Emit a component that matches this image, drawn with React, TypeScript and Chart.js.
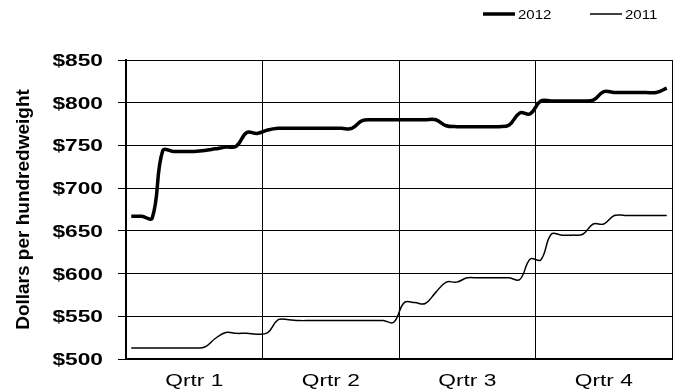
import React, { useEffect, useRef } from 'react';
import { Chart, registerables } from 'chart.js';

Chart.register(...registerables);

const quarterLabels = ['Qrtr 1', 'Qrtr 2', 'Qrtr 3', 'Qrtr 4'];
const weeksPerQuarter = 13;
const yTickValues = [500, 550, 600, 650, 700, 750, 800, 850];
const yAxisTitle = 'Dollars per hundredweight';

const seriesNames = ['2012', '2011'];
const values2012 = [
  667, 667, 665, 744, 743, 743, 743, 744, 746, 748,
  749, 765, 764, 768, 770, 770, 770, 770, 770, 770,
  770, 770, 779, 780, 780, 780, 780, 780, 780, 780,
  773, 772, 772, 772, 772, 772, 774, 788, 787, 802,
  802, 802, 802, 802, 803, 813, 812, 812, 812, 812,
  812, 817,
];
const values2011 = [
  513, 513, 513, 513, 513, 513, 513, 514, 524, 531,
  530, 530, 529, 531, 546, 546, 545, 545, 545, 545,
  545, 545, 545, 545, 545, 543, 566, 566, 565, 578,
  590, 590, 595, 595, 595, 595, 595, 593, 617, 616,
  646, 645, 645, 646, 658, 658, 668, 668, 668, 668,
  668, 668,
];

const totalWeeks = quarterLabels.length * weeksPerQuarter;
const toPoints = (vals: number[]) => vals.map((v, i) => ({ x: i + 0.5, y: v }));
const fmtDollar = (v: number) => '$' + v;

const FONT = '"Liberation Sans", Arial, sans-serif';

function drawStretched(ctx: CanvasRenderingContext2D, text: string, x: number, y: number, font: string, align: CanvasTextAlign, sx: number) {
  ctx.save();
  ctx.font = font;
  ctx.fillStyle = '#000';
  ctx.textAlign = align;
  ctx.textBaseline = 'alphabetic';
  ctx.translate(x, y);
  ctx.scale(sx, 1);
  ctx.fillText(text, 0, 0);
  ctx.restore();
}

const textPlugin = {
  id: 'customText',
  afterDraw(chart: any) {
    const ctx: CanvasRenderingContext2D = chart.ctx;
    const xs = chart.scales.x;
    const ys = chart.scales.y;
    yTickValues.forEach((v) => {
      const py = ys.getPixelForValue(v);
      drawStretched(ctx, fmtDollar(v), 103, py + 6, 'bold 16px ' + FONT, 'right', 1.42);
    });
    quarterLabels.forEach((lab, i) => {
      const px = xs.getPixelForValue(i * weeksPerQuarter + weeksPerQuarter / 2);
      drawStretched(ctx, lab, px, 386, '16px ' + FONT, 'center', 1.42);
    });
    ctx.save();
    ctx.translate(29, (chart.chartArea.top + chart.chartArea.bottom) / 2);
    ctx.rotate(-Math.PI / 2);
    ctx.font = 'bold 19px ' + FONT;
    ctx.fillStyle = '#000';
    ctx.textAlign = 'center';
    ctx.textBaseline = 'alphabetic';
    ctx.fillText(yAxisTitle, 0, 0);
    ctx.restore();
    const legendItems = chart.data.datasets.map((d: any) => ({ label: d.label, w: d.borderWidth }));
    let lx = 483;
    const ly = 14;
    legendItems.forEach((it: any) => {
      ctx.save();
      ctx.strokeStyle = '#000';
      ctx.lineWidth = it.w;
      ctx.beginPath();
      ctx.moveTo(lx, ly);
      ctx.lineTo(lx + 32, ly);
      ctx.stroke();
      ctx.restore();
      drawStretched(ctx, it.label, lx + 35, ly + 4.5, '12px ' + FONT, 'left', 1.25);
      lx += 107;
    });
  },
};

export default function App() {
  const ref = useRef<HTMLCanvasElement>(null);
  useEffect(() => {
    if (!ref.current) return;
    const chart = new Chart(ref.current, {
      type: 'line',
      data: {
        datasets: [
          {
            label: seriesNames[0],
            data: toPoints(values2012),
            borderColor: '#000',
            borderWidth: 3.5,
            pointRadius: 0,
            tension: 0.4,
            fill: false,
          },
          {
            label: seriesNames[1],
            data: toPoints(values2011),
            borderColor: '#000',
            borderWidth: 1.5,
            pointRadius: 0,
            tension: 0.4,
            fill: false,
          },
        ],
      },
      options: {
        animation: false,
        responsive: false,
        maintainAspectRatio: false,
        devicePixelRatio: 1,
        layout: { padding: { top: 60, right: 6, left: 0, bottom: 0 } },
        plugins: {
          legend: { display: false },
          tooltip: { enabled: false },
        },
        scales: {
          x: {
            type: 'linear',
            min: 0,
            max: totalWeeks,
            afterBuildTicks: (axis: any) => {
              axis.ticks = quarterLabels.concat(['']).map((_, i) => ({ value: i * weeksPerQuarter }));
            },
            afterFit: (axis: any) => {
              axis.height = 33;
            },
            ticks: { display: false },
            grid: { color: '#000', lineWidth: 1, drawTicks: false },
            border: { color: '#000', width: 2 },
          },
          y: {
            type: 'linear',
            min: yTickValues[0],
            max: yTickValues[yTickValues.length - 1],
            afterBuildTicks: (axis: any) => {
              axis.ticks = yTickValues.map((v) => ({ value: v }));
            },
            afterFit: (axis: any) => {
              axis.width = 126;
            },
            ticks: { display: false },
            grid: { color: '#000', lineWidth: 1, drawTicks: true, tickLength: 8 },
            border: { color: '#000', width: 2 },
          },
        },
      },
      plugins: [textPlugin],
    });
    return () => chart.destroy();
  }, []);
  return (
    <div style={{ position: 'absolute', left: 0, top: 0, width: 678, height: 392, background: '#fff' }}>
      <canvas ref={ref} width={678} height={392} />
    </div>
  );
}
